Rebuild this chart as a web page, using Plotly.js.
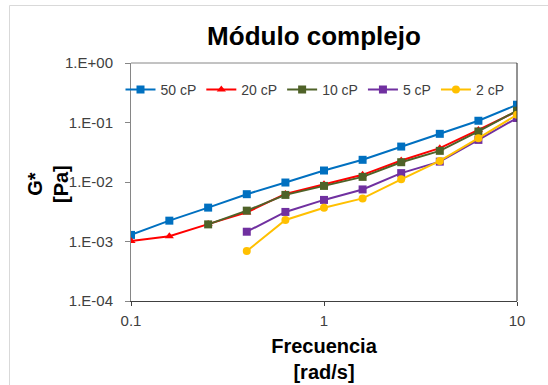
<!DOCTYPE html>
<html>
<head>
<meta charset="utf-8">
<script src="https://cdn.plot.ly/plotly-3.0.1.min.js"></script>
<style>
  html, body { margin: 0; padding: 0; background: #fff; }
  #chart { width: 548px; height: 385px; }
</style>
</head>
<body>
<div id="chart"></div>
<script>
// Frequency [rad/s]
const freq = [0.1, 0.158, 0.251, 0.398, 0.631, 1, 1.585, 2.512, 3.981, 6.31, 10];
// G* [Pa] per viscosity
const g50 = [1.29e-3, 2.24e-3, 3.71e-3, 6.24e-3, 9.8e-3, 1.56e-2, 2.36e-2, 3.94e-2, 6.45e-2, 0.107, 0.199];
const g20 = [1.02e-3, 1.23e-3, 1.96e-3, 3.08e-3, 6.3e-3, 9.2e-3, 1.32e-2, 2.3e-2, 3.7e-2, 7.5e-2, 0.155];
const g10 = [null, null, 1.94e-3, 3.3e-3, 6.07e-3, 8.6e-3, 1.22e-2, 2.15e-2, 3.34e-2, 7.07e-2, 0.158];
const g5  = [null, null, null, 1.46e-3, 3.14e-3, 5.0e-3, 7.5e-3, 1.41e-2, 2.2e-2, 5.1e-2, 0.119];
const g2  = [null, null, null, 6.9e-4, 2.3e-3, 3.7e-3, 5.3e-3, 1.11e-2, 2.26e-2, 5.46e-2, 0.135];

const seriesNames = ['50 cP', '20 cP', '10 cP', '5 cP', '2 cP'];
const yTickVals = [1e-4, 1e-3, 1e-2, 1e-1, 1];
const yTickText = ['1.E-04', '1.E-03', '1.E-02', '1.E-01', '1.E+00'];
const xTickVals = [0.1, 1, 10];
const xTickText = ['0.1', '1', '10'];

const seriesData = [g50, g20, g10, g5, g2];
const colors = ['#0070C0', '#FF0000', '#4F6228', '#7030A0', '#FFC000'];
const symbols = ['square', 'triangle-up', 'square', 'square', 'circle'];

const traces = seriesData.map((ys, i) => ({
  type: 'scatter',
  mode: 'lines+markers',
  name: seriesNames[i],
  x: freq,
  y: ys,
  connectgaps: false,
  line: { color: colors[i], width: 2 },
  marker: { color: colors[i], symbol: symbols[i], size: 8, line: { width: 0 } }
}));

const L = 131, R = 517, T = 63, B = 301, W = 548, H = 385;
const pw = R - L, ph = B - T;
const px = v => (v - L) / pw;
const py = v => (B - v) / ph;

const font = 'Liberation Sans, Arial, sans-serif';

const layout = {
  width: W, height: H,
  margin: { l: L, r: W - R, t: T, b: H - B, pad: 0 },
  paper_bgcolor: '#ffffff',
  plot_bgcolor: '#ffffff',
  font: { family: font, color: '#404040', size: 15 },
  title: {
    text: '<b>Módulo complejo</b>',
    font: { family: font, size: 26, color: '#000000' },
    x: 314 / W, xanchor: 'center', xref: 'container',
    y: 1 - 36 / H, yanchor: 'middle', yref: 'container'
  },
  xaxis: {
    type: 'log',
    range: [-1, 1],
    tickvals: xTickVals,
    ticktext: xTickText,
    ticks: 'outside', ticklen: 4, tickcolor: '#404040',
    showgrid: false, zeroline: false,
    showline: true, linecolor: '#404040', linewidth: 1,
    tickfont: { family: font, size: 15, color: '#404040' },
    ticklabelstandoff: 2,
    title: {
      text: '<b>Frecuencia</b><br><b>[rad/s]</b>',
      font: { family: font, size: 20, color: '#000000' },
      standoff: 10
    },
    automargin: false,
    fixedrange: true
  },
  yaxis: {
    type: 'log',
    range: [-4, 0],
    tickvals: yTickVals,
    ticktext: yTickText,
    ticks: 'outside', ticklen: 5, tickcolor: '#868686',
    showgrid: false, zeroline: false,
    showline: true, linecolor: '#868686', linewidth: 1,
    tickfont: { family: font, size: 15, color: '#404040' },
    ticklabelstandoff: 9,
    automargin: false,
    fixedrange: true
  },
  annotations: [
    { text: '<b>G*</b><br><b>[Pa]</b>', xref: 'paper', yref: 'paper',
      x: px(48), y: py(184), xanchor: 'center', yanchor: 'middle',
      textangle: -90, showarrow: false,
      font: { family: font, size: 20, color: '#000000' } }
  ],
  legend: {
    orientation: 'h',
    x: px(315), xanchor: 'center',
    y: py(90), yanchor: 'middle',
    bgcolor: 'rgba(0,0,0,0)',
    borderwidth: 0,
    font: { family: font, size: 14, color: '#404040' },
    traceorder: 'normal',
    itemwidth: 30
  },
  shapes: [
    { type: 'rect', xref: 'paper', yref: 'paper',
      x0: px(9.5), x1: px(600), y0: py(5.5), y1: py(420),
      line: { color: '#d9d9d9', width: 1 }, fillcolor: 'rgba(0,0,0,0)', layer: 'below' },
    { type: 'line', xref: 'paper', yref: 'paper', x0: 0, x1: 1, y0: 1, y1: 1,
      line: { color: '#868686', width: 1 } },
    { type: 'line', xref: 'paper', yref: 'paper', x0: 1, x1: 1, y0: 0, y1: 1,
      line: { color: '#262626', width: 1 } }
  ],
  showlegend: true
};

Plotly.newPlot('chart', traces, layout, { displayModeBar: false, staticPlot: true });
</script>
</body>
</html>
